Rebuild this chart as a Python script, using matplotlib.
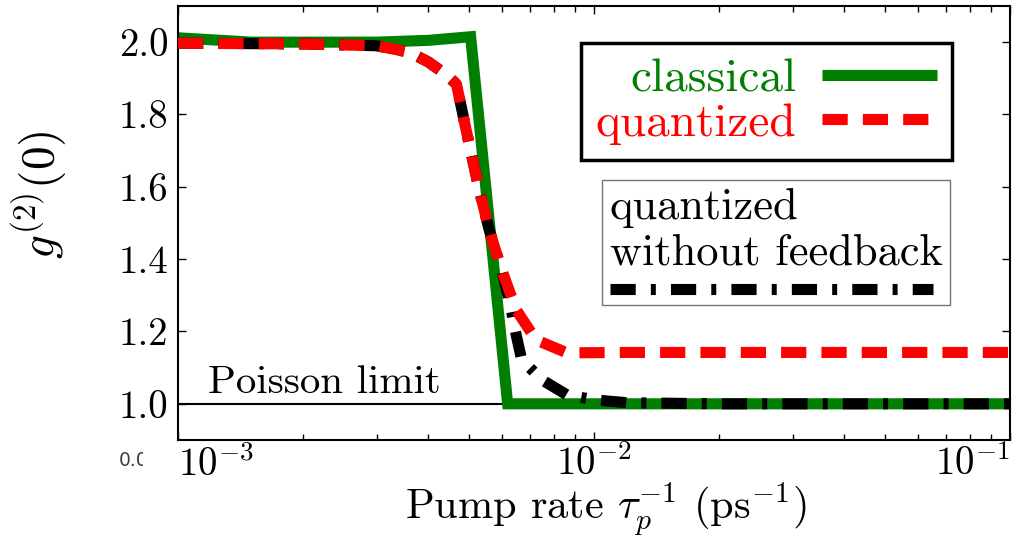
import matplotlib
matplotlib.use("Agg")
import matplotlib.pyplot as plt
from matplotlib.transforms import Bbox

plt.rcParams["font.family"] = ["cmr10", "DejaVu Serif"]
plt.rcParams["mathtext.fontset"] = "cm"
plt.rcParams["axes.formatter.use_mathtext"] = True
plt.rcParams["axes.unicode_minus"] = False

# values
pump_classical = [1.0e-3, 1.5e-3, 3.0e-3, 4.0e-3, 5.05e-3, 6.2e-3, 1.0e-2, 1.0e-1]
g2_classical = [2.012, 2.0, 2.0, 2.005, 2.015, 1.0, 1.0, 1.0]

pump_quantized = [1.0e-3, 2.0e-3, 3.0e-3, 3.6e-3, 4.0e-3, 4.4e-3, 4.67e-3, 4.92e-3,
                  5.3e-3, 5.6e-3, 6.0e-3, 6.5e-3, 7.25e-3, 8.6e-3, 1.2e-2, 2.0e-2,
                  5.0e-2, 1.0e-1]
g2_quantized = [1.997, 1.995, 1.99, 1.972, 1.945, 1.911, 1.884, 1.76,
                1.59, 1.48, 1.37, 1.26, 1.177, 1.141, 1.142, 1.142,
                1.142, 1.142]

pump_nofb = [1.0e-3, 2.0e-3, 3.0e-3, 3.6e-3, 4.0e-3, 4.4e-3, 4.67e-3, 4.92e-3,
             5.3e-3, 5.6e-3, 6.0e-3, 6.3e-3, 6.5e-3, 6.7e-3, 7.5e-3, 8.6e-3,
             1.0e-2, 1.2e-2, 2.0e-2, 1.0e-1]
g2_nofb = [1.997, 1.995, 1.99, 1.972, 1.945, 1.911, 1.884, 1.76,
           1.59, 1.48, 1.37, 1.27, 1.19, 1.122, 1.066, 1.025,
           1.011, 1.003, 1.0, 1.0]

poisson_level = 1.0

x_ticks = [1e-3, 1e-2, 1e-1]
x_tick_labels = [r"$10^{-3}$", r"$10^{-2}$", r"$10^{-1}$"]
y_ticks = [1.0, 1.2, 1.4, 1.6, 1.8, 2.0]
y_tick_labels = ["1.0", "1.2", "1.4", "1.6", "1.8", "2.0"]

fig = plt.figure(figsize=(10.28, 5.39), dpi=100)
ax = fig.add_axes([0.1732, 0.1837, 0.8093, 0.8052])

lw = 8.0
ax.axhline(poisson_level, color="black", lw=1.5, zorder=1)
green, = ax.plot(pump_classical, g2_classical, color="#007f00", lw=lw,
                 solid_joinstyle="miter", solid_capstyle="butt",
                 label="classical", zorder=2)
black, = ax.plot(pump_nofb, g2_nofb, color="black", lw=lw,
                 linestyle=(0, (2.27, 1.36, 0.45, 1.36)), zorder=3)
red, = ax.plot(pump_quantized, g2_quantized, color="#ff0000", lw=lw,
               linestyle=(0, (2.27, 1.36)), label="quantized", zorder=4)

ax.text(1.18e-3, 1.03, "Poisson limit", fontsize=29.5, va="baseline")

ax.set_xscale("log")
ax.set_xlim(1e-3, 1e-1)
ax.set_ylim(0.9, 2.1)
ax.set_xticks(x_ticks)
ax.set_xticklabels(x_tick_labels)
ax.set_yticks(y_ticks)
ax.set_yticklabels(y_tick_labels)
xl = ax.get_xticklabels()
xl[0].set_ha("left")
xl[-1].set_ha("right")

ax.tick_params(which="both", direction="in", top=True, right=True,
               labelsize=28, width=1.0)
ax.tick_params(which="major", length=6, pad=7)
ax.tick_params(axis="x", which="major", pad=4)
ax.tick_params(which="minor", length=4)
for s in ax.spines.values():
    s.set_linewidth(1.5)

ax.set_xlabel(r"Pump rate $\tau_p^{-1}$ $(\mathrm{ps}^{-1})$", fontsize=30.5)
ax.xaxis.label.set_verticalalignment("baseline")
ax.xaxis.set_label_coords(0.514, -0.182)
ax.set_ylabel(r"$g^{(2)}(0)$", fontsize=34)
ax.yaxis.set_label_coords(-0.13, 0.565)

leg1 = ax.legend(handles=[green, red], loc="upper right", bbox_to_anchor=(0.93, 0.914),
                 borderaxespad=0, markerfirst=False, labelcolor="linecolor",
                 fontsize=34, fancybox=False, edgecolor="black", framealpha=1,
                 handlelength=2.42, labelspacing=0.05, handletextpad=0.55,
                 borderpad=0.32)
leg1.get_frame().set_linewidth(2.5)
ax.add_artist(leg1)

leg2 = ax.legend(handles=[black], labels=[""], loc="upper right",
                 bbox_to_anchor=(0.928, 0.599), borderaxespad=0,
                 title="quantized\nwithout feedback", title_fontsize=32,
                 alignment="left", fontsize=12, fancybox=False, edgecolor="0.45",
                 framealpha=1, handlelength=19.4, handletextpad=0, borderpad=0.45)
leg2.get_frame().set_linewidth(1.0)

# cut-off stray label at lower left of the original
t = fig.text(0.116, 0.136, "0.0", fontsize=13.5, family="DejaVu Sans", color="0.25")
t.set_clip_box(Bbox.from_extents(0, 0, 143, 539))
t.set_clip_on(True)

fig.savefig("out.png", dpi=100)
